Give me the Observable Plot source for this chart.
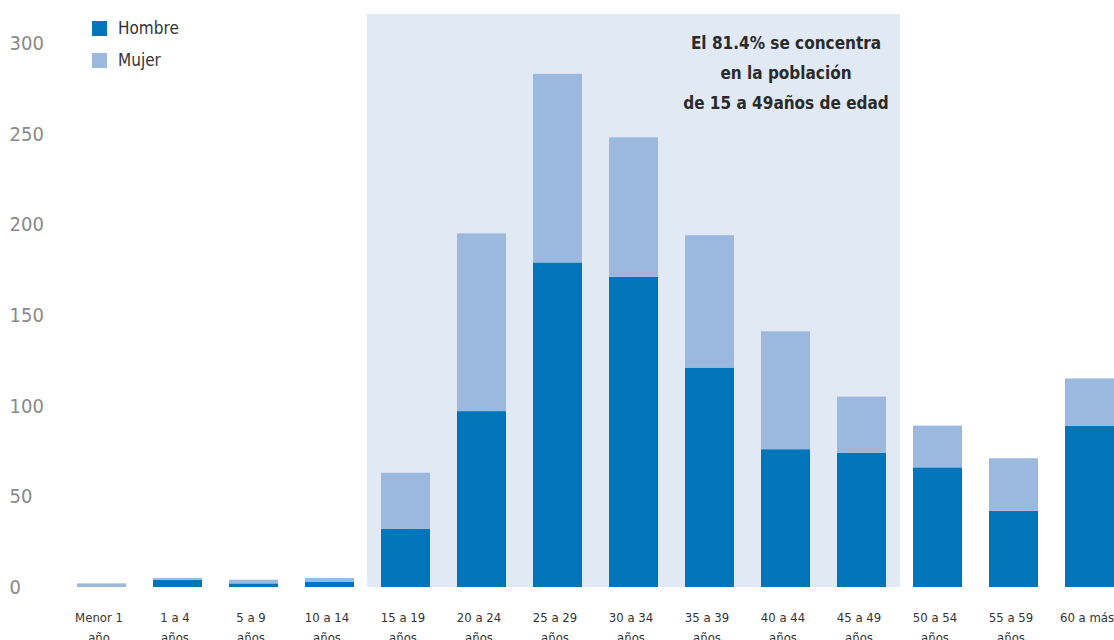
<!DOCTYPE html>
<html>
<head>
<meta charset="utf-8">
<script src="https://cdn.jsdelivr.net/npm/d3@7"></script>
<script src="https://cdn.jsdelivr.net/npm/@observablehq/plot@0.6"></script>
<style>
  html, body { margin: 0; padding: 0; background: #fff; }
  #wrap { position: relative; width: 1114px; height: 640px; overflow: hidden;
          font-family: "Liberation Sans Narrow", "DejaVu Sans Condensed", sans-serif; }
  #legend { position: absolute; left: 92px; top: 20px; font-size: 17px; color: #333; }
  #legend .item { display: flex; align-items: center; height: 16px; margin-bottom: 16px; }
  #legend .sw { width: 15px; height: 15px; margin-right: 11px; }
</style>
</head>
<body>
<div id="wrap">
  <div id="chart"></div>
  <div id="legend"></div>
</div>
<script>
// Grupos de edad (etiqueta en dos líneas)
const categories = [
  "Menor 1\naño", "1 a 4\naños", "5 a 9\naños", "10 a 14\naños",
  "15 a 19\naños", "20 a 24\naños", "25 a 29\naños", "30 a 34\naños",
  "35 a 39\naños", "40 a 44\naños", "45 a 49\naños", "50 a 54\naños",
  "55 a 59\naños", "60 a más"
];
const hombre = [0, 4, 2, 3, 32, 97, 179, 171, 121, 76, 74, 66, 42, 89];
const mujer  = [2, 1, 2, 2, 31, 98, 104, 77, 73, 65, 31, 23, 29, 26];
const series = ["Hombre", "Mujer"];
const colors = ["#0075b9", "#9bb9df"];
const yTicks = [0, 50, 100, 150, 200, 250, 300];
const yMax = 316;
// Grupos de 15 a 49 años, resaltados con un fondo
const highlighted = categories.slice(4, 11);
const note = "El 81.4% se concentra\nen la población\nde 15 a 49años de edad";
const noteAnchor = "40 a 44\naños";

const rows = categories.flatMap((c, i) => [
  {grupo: c, sexo: series[0], valor: hombre[i]},
  {grupo: c, sexo: series[1], valor: mujer[i]}
]);

const font = '"Liberation Sans Narrow", "DejaVu Sans Condensed", sans-serif';

const chart = Plot.plot({
  width: 1114,
  height: 640,
  marginTop: 14,
  marginBottom: 53,
  marginLeft: 0,
  marginRight: 0,
  style: {fontFamily: font, background: "#fff", overflow: "hidden"},
  x: {domain: categories, range: [64, 1128], paddingInner: 0.355, paddingOuter: 0.1775, label: null},
  y: {domain: [0, yMax], label: null},
  color: {domain: series, range: colors},
  marks: [
    Plot.barY(highlighted, {x: d => d, y1: 0, y2: yMax, fill: "#e1e9f5", insetLeft: -14, insetRight: -14}),
    Plot.barY(rows, {x: "grupo", y: "valor", fill: "sexo", order: series}),
    Plot.axisY(yTicks, {tickSize: 0, tickPadding: 0, dx: 9, textAnchor: "start",
      fontSize: 20, fill: "#8a8a8a", label: null}),
    Plot.axisX({tickSize: 0, tickPadding: 21, dx: -3, lineAnchor: "top", fontSize: 13,
      lineHeight: 1.5, fill: "#333", label: null}),
    Plot.text([note], {x: () => noteAnchor, text: d => d, frameAnchor: "top", dy: 13,
      lineAnchor: "top", fontSize: 17, fontWeight: "bold", lineHeight: 1.76, fill: "#2a2a2a"})
  ]
});
document.getElementById("chart").appendChild(chart);

const legend = document.getElementById("legend");
series.forEach((s, i) => {
  const item = document.createElement("div");
  item.className = "item";
  item.innerHTML = `<span class="sw" style="background:${colors[i]}"></span><span>${s}</span>`;
  legend.appendChild(item);
});
</script>
</body>
</html>
